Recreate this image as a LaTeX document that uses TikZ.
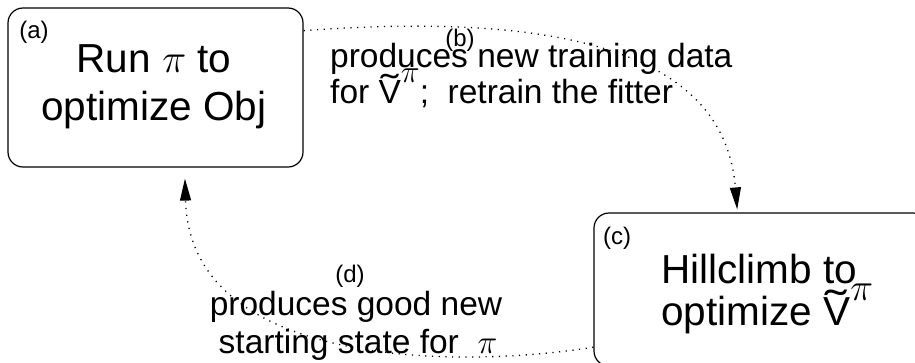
\RequirePackage{fix-cm}
\documentclass[tikz,border=0pt]{standalone}
\usepackage{fontspec}
\usepackage{graphicx}
\setmainfont{Liberation Sans}
\usetikzlibrary{arrows.meta}
\tikzset{
  box/.style={draw, line width=1.2pt, rounded corners=15pt, inner sep=0pt},
  boxtext/.style={font=\fontsize{40.5}{48}\selectfont, inner sep=0pt},
  tag/.style={font=\fontsize{24}{28}\selectfont, inner sep=0pt},
  lbl/.style={font=\fontsize{33.5}{37}\selectfont, inner sep=0pt},
  flow/.style={line width=1.3pt, dash pattern=on 1.2pt off 5.5pt,
    -{Triangle[length=22pt,width=11pt]}},
}
\newcommand{\Vt}{{\ooalign{V\cr\hidewidth\raisebox{0.1em}{\scalebox{1.6}[1.05]{\char"02DC}}\hidewidth\cr}}\raisebox{0.6em}{\scalebox{0.95}{\(\pi\)}}}
\begin{document}
\begin{tikzpicture}[x=1pt,y=-1pt]
  \useasboundingbox (0,0) rectangle (915,362);
  % boxes
  \node[box, minimum width=295pt, minimum height=159pt] (a) at (155.5,87.5) {};
  \node[box, minimum width=334pt, minimum height=153pt] (c) at (761,289.5) {};
  % box texts
  \node[boxtext, anchor=base] (a1) at (154,72) {Run \(\pi\) to};
  \node[boxtext, anchor=base] (a2) at (154,120) {optimize Obj};
  \node[boxtext, anchor=base west] (c1) at (661,283) {Hillclimb to};
  \node[boxtext, anchor=base west] (c2) at (661,325) {optimize \Vt};
  % tags
  \node[tag] (ta) at (34,32.5) {(a)};
  \node[tag] (tc) at (617,238) {(c)};
  \node[tag] (tb) at (460,40) {(b)};
  \node[tag] (td) at (350,276) {(d)};
  % edge labels
  \node[lbl, anchor=base west] (b1) at (330,67) {produces new training data};
  \node[lbl, anchor=base west] (b2) at (330,103) {for \Vt;\ \ retrain the fitter};
  \node[lbl, anchor=base] (d1) at (356,315) {produces good new};
  \node[lbl, anchor=base] (d2) at (358,353) {starting state for \ \(\pi\)};
  % connectors
  \draw[flow, shorten >=3pt] (a.21.3) .. controls (580,10) and (725,60) .. (c.107.4);
  \draw[flow, shorten >=11pt] (c.199.2) .. controls (450,370) and (190,365) .. (a.290.4);
\end{tikzpicture}
\end{document}
